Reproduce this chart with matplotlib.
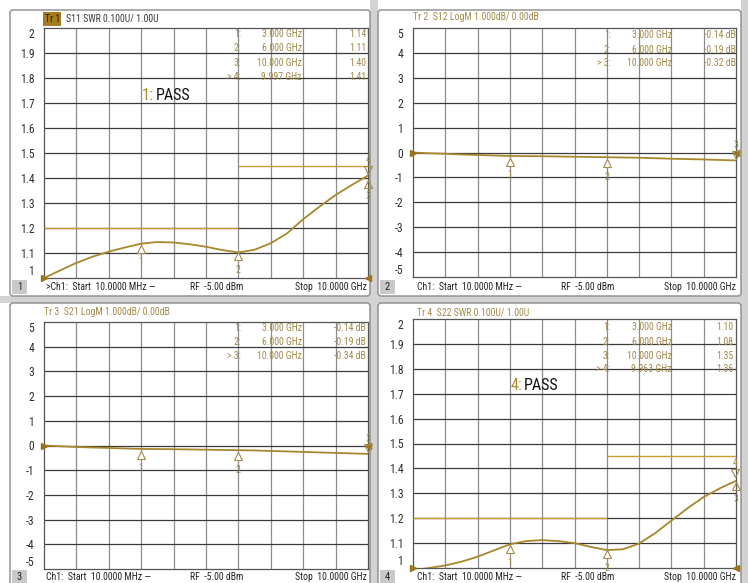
"""VNA four-trace screenshot (S11/S12/S21/S22) redrawn with matplotlib."""

import matplotlib
matplotlib.use("Agg")
import matplotlib.pyplot as plt
import matplotlib.transforms as mtrans
from matplotlib import font_manager
from matplotlib.font_manager import FontProperties
from matplotlib.patches import Rectangle, FancyBboxPatch

W, H = 748, 583
FAMILIES = ("DejaVu", "Liberation", "Noto Sans", "Roboto", "Open Sans", "Lato", "Inter")


def _measure(fname):
    ft = font_manager.get_font(fname)
    ft.set_size(100, 72)
    ft.set_text("3.000 GHz")
    w = ft.get_width_height()[0] / 64
    ft.set_text("H")
    cap = ft.get_width_height()[1] / 64
    return w, cap


def pick_narrow_font(target=40 / 7):
    """The analyser screen uses an Arial-Narrow-like face: among the condensed
    sans faces installed, take the one whose width/cap ratio is closest."""
    best, best_err = None, None
    seen = 0
    for f in font_manager.fontManager.ttflist:
        n = f.name
        if not n.startswith(FAMILIES) or any(k in n for k in ("Mono", "Serif", "CJK", "Math", "Display")):
            continue
        narrowish = "Narrow" in n or "Condensed" in n or str(f.stretch) != "normal"
        if not narrowish or f.style != "normal" or f.weight not in (400, "normal", "regular", "book"):
            continue
        seen += 1
        if seen > 40:
            break
        try:
            w, cap = _measure(f.fname)
        except Exception:
            continue
        if cap <= 0:
            continue
        err = abs(w / cap - target)
        if best_err is None or err < best_err:
            best, best_err = (f.fname, cap), err
    if best is None:
        fname = font_manager.findfont("Liberation Sans")
        best = (fname, _measure(fname)[1])
    return best


_fname, _cap100 = pick_narrow_font()


def fp(cap_px):
    """Font properties sized so that capital letters are cap_px pixels tall."""
    return FontProperties(fname=_fname, size=cap_px * 72 / _cap100)


TRACE = "#a8872c"
GOLD = "#a3894a"
LIMIT = "#c99a3a"
GRID_H = "#3c3c3c"
GRID_V = "#8c8c8c"
TXT = 7.0

# ---- data ----
freq_ghz = [0.01, 0.5, 1, 1.5, 2, 2.5, 3, 3.5, 4, 4.5, 5, 5.5, 6, 6.5, 7, 7.5, 8, 8.5, 9, 9.5, 10]
s11_swr = [1.00, 1.03, 1.06, 1.085, 1.105, 1.122, 1.137, 1.144, 1.142, 1.135, 1.125, 1.112, 1.102,
           1.113, 1.139, 1.178, 1.235, 1.285, 1.332, 1.372, 1.41]
s12_db = [0.00, -0.03, -0.05, -0.08, -0.10, -0.12, -0.14, -0.145, -0.15, -0.16, -0.17, -0.18, -0.19,
          -0.20, -0.21, -0.23, -0.25, -0.265, -0.28, -0.30, -0.32]
s21_db = [0.00, -0.03, -0.06, -0.08, -0.10, -0.12, -0.14, -0.145, -0.15, -0.16, -0.17, -0.18, -0.19,
          -0.20, -0.22, -0.24, -0.26, -0.28, -0.30, -0.32, -0.34]
s22_swr = [0.99, 1.00, 1.01, 1.025, 1.045, 1.07, 1.095, 1.108, 1.112, 1.108, 1.10, 1.085, 1.072,
           1.075, 1.098, 1.14, 1.19, 1.24, 1.285, 1.32, 1.35]

swr_ticks = [1, 1.1, 1.2, 1.3, 1.4, 1.5, 1.6, 1.7, 1.8, 1.9, 2]
swr_labels = ["1", "1.1", "1.2", "1.3", "1.4", "1.5", "1.6", "1.7", "1.8", "1.9", "2"]
db_ticks = [-5, -4, -3, -2, -1, 0, 1, 2, 3, 4, 5]
db_labels = ["-5", "-4", "-3", "-2", "-1", "0", "1", "2", "3", "4", "5"]

# limit lines on the SWR traces: (start GHz, stop GHz, value)
swr_limits = [(0.01, 6.0, 1.2), (6.0, 10.0, 1.45)]

# marker readouts
swr1_markers = [("1:", "3.000 GHz", 3.0, 1.14), ("2:", "6.000 GHz", 6.0, 1.11),
                ("3:", "10.000 GHz", 10.0, 1.40), ("4:", "9.997 GHz", 9.997, 1.41)]
s12_markers = [("1:", "3.000 GHz", 3.0, -0.14), ("2:", "6.000 GHz", 6.0, -0.19),
               ("3:", "10.000 GHz", 10.0, -0.32)]
s21_markers = [("1:", "3.000 GHz", 3.0, -0.14), ("2:", "6.000 GHz", 6.0, -0.19),
               ("3:", "10.000 GHz", 10.0, -0.34)]
swr4_markers = [("1:", "3.000 GHz", 3.0, 1.10), ("2:", "6.000 GHz", 6.0, 1.08),
                ("3:", "10.000 GHz", 10.0, 1.35), ("4:", "9.963 GHz", 9.963, 1.36)]

fig = plt.figure(figsize=(W / 100, H / 100), dpi=100)
fig.patch.set_facecolor("white")


def overlay(z):
    a = fig.add_axes([0, 0, 1, 1], zorder=z)
    a.set_xlim(0, W)
    a.set_ylim(H, 0)
    a.axis("off")
    a.patch.set_alpha(0)
    return a


# screen chrome in pixel coordinates: bg under the grids, fg above them
bg = overlay(0)
bg.add_patch(Rectangle((370, 0), 8, H, color="#d3d3d3", lw=0))
bg.add_patch(Rectangle((741, 0), 7, H, color="#d3d3d3", lw=0))
bg.add_patch(Rectangle((0, 296), W, 7, color="#d3d3d3", lw=0))
for (x0, y0, x1, y1) in [(10, 10, 370, 296), (378, 10, 741, 296), (10, 303, 370, 600), (378, 303, 741, 600)]:
    bg.add_patch(FancyBboxPatch((x0, y0), x1 - x0, y1 - y0, boxstyle="round,pad=0,rounding_size=3",
                                fc="white", ec="#8a8a8a", lw=1.0))


def px_axes(x0, y0, x1, y1):
    return fig.add_axes([x0 / W, 1 - y1 / H, (x1 - x0) / W, (y1 - y0) / H], zorder=2)


def draw_trace(ax, values, ticks, labels, ref):
    ax.set_xlim(freq_ghz[0], freq_ghz[-1])
    ax.set_ylim(ticks[0], ticks[-1])
    step = (freq_ghz[-1] - freq_ghz[0]) / 10
    for i in range(1, 10):
        ax.axvline(freq_ghz[0] + i * step, color=GRID_V, lw=0.9, zorder=1)
    for t in ticks[1:-1]:
        ax.axhline(t, color=GRID_H, lw=0.9, zorder=1)
    ax.set_xticks([])
    ax.set_yticks(ticks)
    ax.set_yticklabels(labels, color="#2e2e2e", fontproperties=fp(8.3))
    ax.tick_params(axis="y", length=0, pad=7)
    tl = ax.get_yticklabels()
    tl[0].set_verticalalignment("bottom")
    tl[-1].set_verticalalignment("top")
    for s in ax.spines.values():
        s.set_color("#555555")
        s.set_linewidth(0.9)
    ax.plot(freq_ghz, values, color=TRACE, lw=1.3, zorder=4)
    ax.plot([freq_ghz[0]], [ref], marker=">", color="#9c7418", ms=5, clip_on=False, zorder=5)
    ax.plot([freq_ghz[-1]], [ref], marker="<", color="#9c7418", ms=5, clip_on=False, zorder=5)


def marker_glyphs(ax, markers, end_style):
    below = mtrans.offset_copy(ax.transData, fig=fig, x=0, y=-4, units="points")
    above = mtrans.offset_copy(ax.transData, fig=fig, x=0, y=4, units="points")
    for name, _, f, v in markers:
        num = name.rstrip(":")
        if f < 9.9:
            ax.plot([f], [v], marker="^", mfc="white", mec=GOLD, ms=6, mew=0.8, transform=below, zorder=6)
            ax.annotate(num, (f, v), xytext=(0, -14), textcoords="offset points", ha="center",
                        va="center", fontproperties=fp(TXT), color=GOLD)
        elif end_style == "swr" and num == "3":
            ax.plot([f], [v], marker="^", mfc="none", mec=GOLD, ms=6, mew=0.8, transform=below,
                    clip_on=False, zorder=6)
            ax.annotate(num, (f, v), xytext=(0, -13), textcoords="offset points", ha="center",
                        va="center", fontproperties=fp(TXT), color=GOLD, annotation_clip=False)
        else:
            ax.plot([f], [v], marker="v", mfc="none", mec=GOLD, ms=6, mew=0.8, transform=above,
                    clip_on=False, zorder=6)
            ax.annotate(num, (f, v), xytext=(0, 11), textcoords="offset points", ha="center",
                        va="center", fontproperties=fp(TXT), color=GOLD, annotation_clip=False)


fg = overlay(5)


def marker_table(markers, rows_y, x_name, x_freq, x_val, unit, active):
    for i, (name, fstr, _, v) in enumerate(markers):
        y = rows_y[i]
        label = name if i != active else "> " + name
        fg.text(x_name, y, label, ha="right", va="center", fontproperties=fp(TXT), color=GOLD)
        fg.text(x_freq, y, fstr, ha="right", va="center", fontproperties=fp(TXT), color=GOLD)
        fg.text(x_val, y, f"{v:.2f}{unit}", ha="right", va="center", fontproperties=fp(TXT), color=GOLD)


def status_bar(num, x0, y, x_start, x_rf, x_stop, active):
    bg.add_patch(Rectangle((x0, y - 7), 15, 14, color="#c9c9c9", lw=0))
    bg.text(x0 + 7.5, y, num, ha="center", va="center", fontproperties=fp(TXT + 0.5), color="#222222")
    lead = ">Ch1:" if active else "Ch1:"
    bg.text(x_start, y, f"{lead}  Start  10.0000 MHz \u2014", ha="left", va="center",
            fontproperties=fp(TXT), color="#222222")
    bg.text(x_rf, y, "RF  -5.00 dBm", ha="left", va="center", fontproperties=fp(TXT), color="#222222")
    bg.text(x_stop, y, "Stop  10.0000 GHz", ha="right", va="center", fontproperties=fp(TXT),
            color="#222222")


def pass_label(x, y, num):
    t = fg.text(x, y, f"{num}:", ha="left", va="center", fontproperties=fp(11.5), color="#b08a2c")
    fg.annotate("PASS", xy=(1, 0.5), xycoords=t, xytext=(1, 0), textcoords="offset points",
                ha="left", va="center", fontproperties=fp(11.5), color="#111111")


# ---- Tr 1: S11 SWR ----
ax1 = px_axes(44, 28, 368, 278)
draw_trace(ax1, s11_swr, swr_ticks, swr_labels, 1.0)
for f0, f1, lv in swr_limits:
    ax1.hlines(lv, f0, f1, color=LIMIT, lw=1.0, zorder=3)
marker_glyphs(ax1, swr1_markers, "swr")
fg.add_patch(Rectangle((43, 12), 18, 14, color="#a37c1f", lw=0))
fg.text(45, 19, "Tr 1", ha="left", va="center", fontproperties=fp(TXT), color="#2a1e08")
fg.text(66, 19, "S11 SWR 0.100U/ 1.00U", ha="left", va="center", fontproperties=fp(TXT), color="#3a3a3a")
marker_table(swr1_markers, [34, 48, 63, 77], 241, 302, 366, "", 3)
pass_label(142, 95, "1")
status_bar("1", 12, 287, 46, 190, 367, True)

# ---- Tr 2: S12 LogM ----
ax2 = px_axes(413, 28, 736, 277)
draw_trace(ax2, s12_db, db_ticks, db_labels, 0.0)
marker_glyphs(ax2, s12_markers, "db")
fg.text(413, 17, "Tr 2  S12 LogM 1.000dB/ 0.00dB", ha="left", va="center", fontproperties=fp(TXT), color=GOLD)
marker_table(s12_markers, [35, 50, 63], 611, 672, 736, " dB", 2)
status_bar("2", 380, 287, 417, 561, 736, False)

# ---- Tr 3: S21 LogM ----
ax3 = px_axes(44, 322, 368, 569)
draw_trace(ax3, s21_db, db_ticks, db_labels, 0.0)
marker_glyphs(ax3, s21_markers, "db")
fg.text(44, 312, "Tr 3  S21 LogM 1.000dB/ 0.00dB", ha="left", va="center", fontproperties=fp(TXT), color=GOLD)
marker_table(s21_markers, [328, 342, 356], 241, 302, 366, " dB", 2)
status_bar("3", 12, 577, 46, 190, 367, False)

# ---- Tr 4: S22 SWR ----
ax4 = px_axes(413, 319, 736, 568)
draw_trace(ax4, s22_swr, swr_ticks, swr_labels, 1.0)
for f0, f1, lv in swr_limits:
    ax4.hlines(lv, f0, f1, color=LIMIT, lw=1.0, zorder=3)
marker_glyphs(ax4, swr4_markers, "swr")
fg.text(417, 312, "Tr 4  S22 SWR 0.100U/ 1.00U", ha="left", va="center", fontproperties=fp(TXT), color=GOLD)
marker_table(swr4_markers, [327, 342, 356, 369], 610, 672, 733, "", 3)
pass_label(511, 386, "4")
status_bar("4", 380, 577, 417, 561, 736, False)

fig.savefig("out.png", dpi=100, facecolor="white")
